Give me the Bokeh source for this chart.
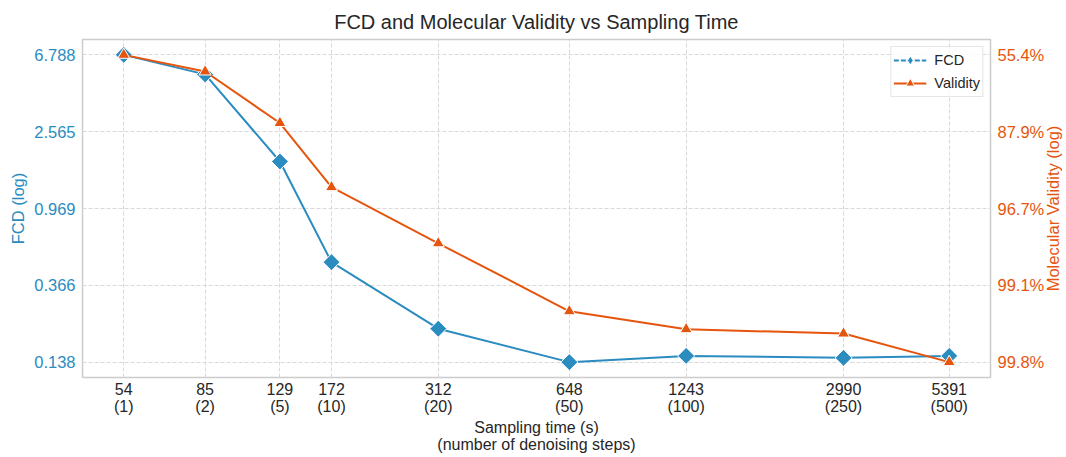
import numpy as np
from bokeh.plotting import figure
from bokeh.models import (Range1d, LogScale, LogAxis, FixedTicker, CustomJSTickFormatter,
                          Legend, LegendItem, ColumnDataSource, Label)
from bokeh.embed import file_html
from bokeh.resources import INLINE

# ---- data ----
times = [54, 85, 129, 172, 312, 648, 1243, 2990, 5391]          # sampling time (s)
steps = [1, 2, 5, 10, 20, 50, 100, 250, 500]                    # denoising steps
fcd = [6.788, 5.30, 1.758, 0.491, 0.2115, 0.1384, 0.1498, 0.1461, 0.1498]
validity_pct = [55.4, 66.4, 86.0, 95.3, 98.19, 99.43, 99.58, 99.61, 99.76]

BLUE = "#2b8cc0"
ORANGE = "#e6550d"
DARK = "#262626"
FONT = "Liberation Sans"

W, H = 1066, 457
BL, BT, BR, BB = 82, 39, 76, 80     # borders around the plot frame

invalid = [1.0 - v / 100.0 for v in validity_pct]

# log ranges with 5% margins
def log_range(vals):
    lo, hi = min(vals), max(vals)
    r = (hi / lo) ** 0.05
    return lo / r, hi * r

xs, xe = log_range(times)
ys, ye = log_range(fcd)
vs, ve = log_range(invalid)

p = figure(width=W, height=H, x_axis_type="log", y_axis_type="log",
           x_range=Range1d(xs, xe), y_range=Range1d(ys, ye),
           output_backend="svg", toolbar_location=None,
           title="FCD and Molecular Validity vs Sampling Time")
p.extra_y_ranges = {"val": Range1d(vs, ve)}
p.extra_y_scales = {"val": LogScale()}

p.min_border_left = BL
p.min_border_top = BT
p.min_border_right = BR
p.min_border_bottom = BB
p.background_fill_color = "white"
p.border_fill_color = "white"
p.outline_line_color = "#cccccc"
p.outline_line_width = 1.5

p.title.align = "center"
p.title.text_font = FONT
p.title.text_font_size = "20px"
p.title.text_font_style = "normal"
p.title.text_color = DARK
p.title.standoff = 14

# ---- x axis ----
xt = FixedTicker(ticks=times, minor_ticks=[])
xa = p.xaxis[0]
xa.ticker = xt
xa.major_label_overrides = {t: f"{t}\n({s})" for t, s in zip(times, steps)}
xa.axis_label = "Sampling time (s)\n(number of denoising steps)"
xa.axis_label_text_font = FONT
xa.axis_label_text_font_size = "16px"
xa.axis_label_text_font_style = "normal"
xa.axis_label_text_color = DARK
xa.axis_label_text_line_height = 1.0
xa.axis_label_standoff = 1
xa.major_label_text_font = FONT
xa.major_label_text_font_size = "16px"
xa.major_label_text_color = DARK
xa.major_label_text_line_height = 1.0
xa.major_label_standoff = 3

# ---- left y axis ----
fticks = list(np.geomspace(min(fcd), max(fcd), 5))
yt = FixedTicker(ticks=fticks, minor_ticks=[])
ya = p.yaxis[0]
ya.ticker = yt
ya.formatter = CustomJSTickFormatter(code="return tick.toFixed(3);")
ya.axis_label = "FCD (log)"
ya.axis_label_text_color = BLUE
ya.major_label_text_color = BLUE
ya.axis_label_standoff = 4

# ---- right y axis ----
vticks = list(np.geomspace(min(invalid), max(invalid), 5))
ra = LogAxis(y_range_name="val", ticker=FixedTicker(ticks=vticks, minor_ticks=[]))
ra.formatter = CustomJSTickFormatter(code="return ((1 - tick) * 100).toFixed(1) + '%';")
ra.major_label_text_color = ORANGE
p.add_layout(ra, "right")

for ax in (ya, ra):
    ax.axis_label_text_font = FONT
    ax.axis_label_text_font_size = "16.5px"
    ax.axis_label_text_font_style = "normal"
    ax.major_label_text_font = FONT
    ax.major_label_text_font_size = "16.5px"
    ax.major_label_standoff = 7

for ax in (xa, ya, ra):
    ax.axis_line_color = None
    ax.major_tick_line_color = None
    ax.minor_tick_line_color = None
    ax.major_tick_out = 0
    ax.major_tick_in = 0

# right-hand axis title, reading bottom-to-top like the reference (in a side panel)
frame_h = H - BT - BB
rlab = Label(x=5, y=frame_h / 2, x_units="screen", y_units="screen",
             text="Molecular Validity (log)", angle=np.pi / 2,
             text_align="center", text_baseline="middle",
             text_font=FONT, text_font_size="16.5px", text_color=ORANGE)
p.add_layout(rlab, "right")

# ---- grid ----
p.xgrid.ticker = xt
p.ygrid.ticker = yt
for g in (p.xgrid, p.ygrid):
    g.grid_line_color = "#d9d9d9"
    g.grid_line_dash = "4 2"
    g.grid_line_width = 1

# ---- glyphs ----
src = ColumnDataSource(dict(t=times, fcd=fcd, inv=invalid))
fl = p.line("t", "fcd", source=src, line_color=BLUE, line_width=2)
fm = p.scatter("t", "fcd", source=src, marker="square", angle=np.pi / 4, size=12,
               fill_color=BLUE, line_color="white", line_width=1)
vl = p.line("t", "inv", source=src, y_range_name="val", line_color=ORANGE, line_width=2)
vm = p.scatter("t", "inv", source=src, y_range_name="val", marker="triangle", size=12,
               fill_color=ORANGE, line_color="white", line_width=1)

# legend-only glyphs for FCD (dashed line + diamond)
dsrc = ColumnDataSource(dict(x=[float("nan")], y=[float("nan")]))
dl = p.line("x", "y", source=dsrc, line_color=BLUE, line_width=2, line_dash="5 2")
dm = p.scatter("x", "y", source=dsrc, marker="diamond", size=12,
               fill_color=BLUE, line_color="white", line_width=1)

legend = Legend(items=[LegendItem(label="FCD", renderers=[dl, dm]),
                       LegendItem(label="Validity", renderers=[vl, vm])],
                location="top_right")
legend.label_text_font = FONT
legend.label_text_font_size = "14.5px"
legend.label_text_color = DARK
legend.border_line_color = "#cccccc"
legend.border_line_width = 1.5
legend.background_fill_alpha = 0.8
legend.glyph_width = 33
legend.glyph_height = 22
legend.spacing = 1
legend.padding = 2
legend.margin = 7
legend.label_standoff = 8
p.add_layout(legend)

open("out.html", "w").write(file_html(p, INLINE))
